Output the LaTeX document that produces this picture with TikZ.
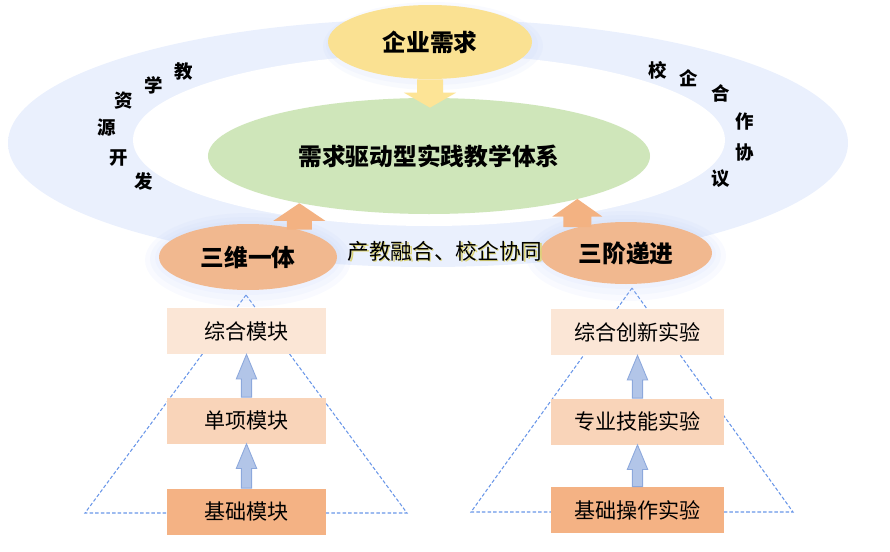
\documentclass[tikz,border=0pt]{standalone}
\usepackage{fontspec}
\newfontfamily\cjk{Noto Sans CJK SC}
\usetikzlibrary{shapes.geometric,calc}
\definecolor{RingBlue}{RGB}{234,240,253}
\definecolor{GlowBlue}{RGB}{186,204,250}
\definecolor{GoalGreen}{RGB}{207,230,186}
\definecolor{NeedYellow}{RGB}{250,225,146}
\definecolor{LevelOrange}{RGB}{241,184,143}
\definecolor{BoxTop}{RGB}{251,230,214}
\definecolor{BoxMid}{RGB}{249,212,185}
\definecolor{BoxLow}{RGB}{244,178,132}
\definecolor{ArrowBlue}{RGB}{178,197,232}
\definecolor{ArrowEdge}{RGB}{140,168,220}
\definecolor{ArrowOrange}{RGB}{243,178,130}
\definecolor{ArrowYellow}{RGB}{253,228,150}
\definecolor{TriBlue}{RGB}{105,150,232}
\definecolor{ShadowYellow}{RGB}{220,212,120}
\pgfdeclareradialshading{ringshade}{\pgfpoint{0bp}{0bp}}{color(0bp)=(RingBlue); color(34bp)=(RingBlue); color(44bp)=(RingBlue!75!white); color(50bp)=(white)}

\begin{document}
\begin{tikzpicture}[x=0.2mm,y=-0.2mm,font=\cjk,
  oval/.style={ellipse, draw=none, inner sep=0pt},
  headtext/.style={font=\cjk\bfseries\fontsize{13.5}{13.5}\selectfont},
  modbox/.style={rectangle, inner sep=0pt, minimum height=9.2mm, font=\cjk\fontsize{12}{12}\selectfont},
  arcchar/.style={inner sep=0pt, font=\cjk\bfseries\fontsize{10.5}{10.5}\selectfont},
  glow/.style={fill=GlowBlue, opacity=0.09},
  tridash/.style={draw=TriBlue, line width=0.6pt, dash pattern=on 2pt off 1.2pt},
  blockup/.style n args={3}{to path={let \p1=(\tikztostart), \p2=(\tikztotarget) in
    (\x1-#1,\y1) -- (\x1-#1,\y2-#3) -- (\x1-#2,\y2-#3) -- (\x1,\y2)
    -- (\x1+#2,\y2-#3) -- (\x1+#1,\y2-#3) -- (\x1+#1,\y1) -- cycle}},
  bluearrow/.style={blockup={2.9pt}{5.8pt}{14pt}, fill=ArrowBlue, draw=ArrowEdge, line width=0.5pt},
]
\useasboundingbox (0,0) rectangle (890,552);

% ring and inner field
\shade[shading=ringshade] (428,143) ellipse [x radius=420, y radius=124];
\fill[white] (429,140) ellipse [x radius=296, y radius=86];

% pyramids
\draw[tridash] (246,295) -- (85,513) -- (407,513) -- cycle;
\draw[tridash] (632,288) -- (471,512) -- (793,512) -- cycle;

% soft glow round the ovals
\fill[glow] (432,45) ellipse [x radius=106, y radius=40];
\fill[glow] (433,46) ellipse [x radius=110, y radius=44];
\fill[glow] (248,258) ellipse [x radius=93, y radius=37];
\fill[glow] (248,259) ellipse [x radius=98, y radius=42];
\fill[glow] (248,260) ellipse [x radius=103, y radius=47];
\fill[glow] (626,254) ellipse [x radius=90, y radius=35];
\fill[glow] (626,255) ellipse [x radius=95, y radius=40];
\fill[glow] (626,256) ellipse [x radius=100, y radius=45];

% main ovals
\node[oval, fill=GoalGreen, minimum width=88.4mm, minimum height=23.2mm, headtext] (xuqiu) at (429,156) {需求驱动型实践教学体系};
\node[oval, fill=NeedYellow, minimum width=40.8mm, minimum height=14.8mm, headtext] (qiye) at (430,42) {企业需求};
\node[oval, fill=LevelOrange, minimum width=35.6mm, minimum height=13.2mm, headtext] (sanwei) at (248,257) {三维一体};
\node[oval, fill=LevelOrange, minimum width=34.4mm, minimum height=12.4mm, headtext] (sanjie) at (626,253) {三阶递进};

% arrows into the system
\fill[blockup={7.4pt}{14.8pt}{-8.5pt}, ArrowYellow] (qiye.south) to ($(xuqiu.north)+(0,10)$);
\fill[blockup={7.1pt}{14.8pt}{10pt}, ArrowOrange] (sanwei.28) to (xuqiu.200);
\fill[blockup={8pt}{14.2pt}{10pt}, ArrowOrange] (sanjie.152) to (xuqiu.-16);

% middle slogan, with its yellow shadow
\node[font=\cjk\fontsize{12.3}{12.3}\selectfont] (slogan) at (445,252)
  {\rlap{\hspace{0.8pt}\raisebox{-0.8pt}{\textcolor{ShadowYellow}{产教融合、校企协同}}}产教融合、校企协同};

% left module stack
\node[modbox, fill=BoxTop, minimum width=31.8mm] (zhmk) at (246.5,331) {综合模块};
\node[modbox, fill=BoxMid, minimum width=31.8mm] (dxmk) at (246.5,420.5) {单项模块};
\node[modbox, fill=BoxLow, minimum width=31.8mm] (jcmk) at (246.5,511.5) {基础模块};
\draw[bluearrow] (dxmk.north) to (zhmk.south);
\draw[bluearrow] (jcmk.north) to (dxmk.south);

% right experiment stack
\node[modbox, fill=BoxTop, minimum width=34.6mm] (cxsy) at (637.5,332) {综合创新实验};
\node[modbox, fill=BoxMid, minimum width=34.6mm] (jnsy) at (637.5,421.5) {专业技能实验};
\node[modbox, fill=BoxLow, minimum width=34.6mm] (czsy) at (637.5,510) {基础操作实验};
\draw[bluearrow] (jnsy.north) to (cxsy.south);
\draw[bluearrow] (czsy.north) to (jnsy.south);

% text along the left of the ring
\node[arcchar] (la) at (184,72) {教};
\node[arcchar] (lb) at (154,85) {学};
\node[arcchar] (lc) at (124,101) {资};
\node[arcchar] (ld) at (107,128) {源};
\node[arcchar] (le) at (119,158) {开};
\node[arcchar] (lf) at (144,181) {发};

% text along the right of the ring
\node[arcchar] (ra) at (658,70) {校};
\node[arcchar] (rb) at (689,78) {企};
\node[arcchar] (rc) at (721,93) {合};
\node[arcchar] (rd) at (745,122) {作};
\node[arcchar] (re) at (745,152) {协};
\node[arcchar] (rf) at (721,179) {议};
\end{tikzpicture}
\end{document}
